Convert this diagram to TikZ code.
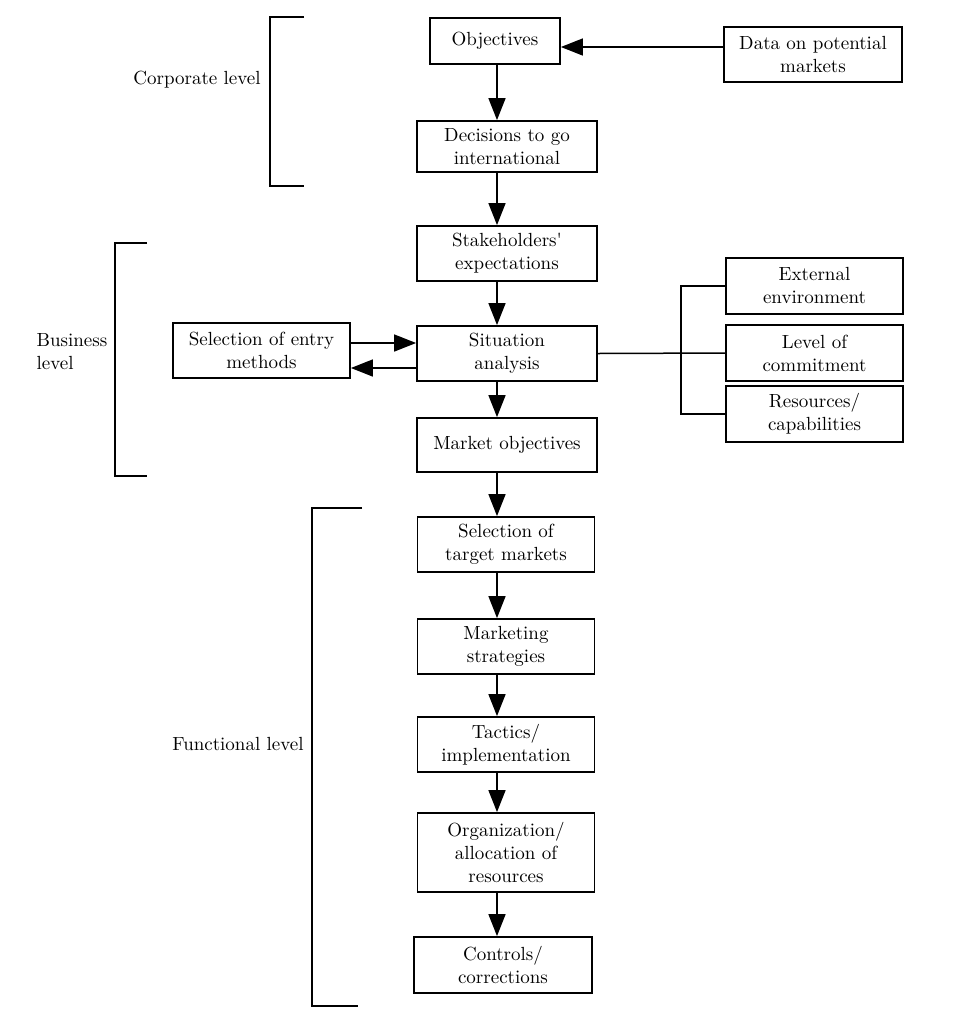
\documentclass[tikz,border=0pt]{standalone}
\usepackage{tikz}
\usetikzlibrary{arrows.meta}

\begin{document}
\begin{tikzpicture}[x=0.5pt, y=-0.5pt,
    box/.style={draw, line width=0.9pt, align=center, inner sep=2pt, font=\fontsize{9.5}{11.5}\selectfont},
    lvl/.style={font=\fontsize{9.5}{11.5}\selectfont},
    arr/.style={-{Triangle[length=11pt, width=8.5pt]}, line width=0.75pt},
    link/.style={line width=0.75pt},
    bracket/.style={line width=0.75pt}]
    \useasboundingbox (0,0) rectangle (964,1018);

    % corporate level
    \node[box, minimum width=65pt, minimum height=23pt] (obj) at (495,41) {Objectives};
    \node[box, minimum width=89pt, minimum height=27.5pt] (data) at (813,54.5) {Data on potential\\markets};
    \node[box, minimum width=90pt, minimum height=25.5pt] (dec) at (507,146.5) {Decisions to go\\international};

    % business level
    \node[box, minimum width=90pt, minimum height=27.5pt] (stk) at (507,253.5) {Stakeholders\textquotesingle\\expectations};
    \node[box, minimum width=90pt, minimum height=27.5pt] (sit) at (507,353.5) {Situation\\analysis};
    \node[box, minimum width=88.5pt, minimum height=27.5pt] (entry) at (261.5,350.5) {Selection of entry\\methods};
    \node[box, minimum width=90pt, minimum height=27pt] (mobj) at (507,445) {Market objectives};
    \node[box, minimum width=88.5pt, minimum height=28pt] (ext) at (814.5,286) {External\\environment};
    \node[box, minimum width=88.5pt, minimum height=28pt] (com) at (814.5,353) {Level of\\commitment};
    \node[box, minimum width=88.5pt, minimum height=28pt] (res) at (814.5,414) {Resources/\\capabilities};

    % functional level
    \node[box, minimum width=88.5pt, minimum height=27.5pt] (tgt) at (506,544.5) {Selection of\\target markets};
    \node[box, minimum width=88.5pt, minimum height=27.5pt] (mks) at (506,646.5) {Marketing\\strategies};
    \node[box, minimum width=88.5pt, minimum height=27.5pt] (tac) at (506,744.5) {Tactics/\\implementation};
    \node[box, minimum width=88.5pt, minimum height=39.5pt] (org) at (506,852.5) {Organization/\\allocation of\\resources};
    \node[box, minimum width=89pt, minimum height=28pt] (ctl) at (503,965) {Controls/\\corrections};

    % level labels
    \node[lvl] (corp) at (197,80) {Corporate level};
    \node[lvl, align=left] (bus) at (72,352) {Business\\level};
    \node[lvl] (func) at (238,744) {Functional level};

    \draw[bracket] (304,17) -- (270,17) -- (270,186) -- (304,186);
    \draw[bracket] (147,243) -- (115,243) -- (115,476) -- (147,476);
    \draw[bracket] (362,508) -- (312,508) -- (312,1006) -- (358,1006);

    % main flow
    \coordinate (col) at (497,0);
    \draw[arr] (obj.south -| col) -- (dec.north -| col);
    \draw[arr] (dec.south -| col) -- (stk.north -| col);
    \draw[arr] (stk.south -| col) -- (sit.north -| col);
    \draw[arr] (sit.south -| col) -- (mobj.north -| col);
    \draw[arr] (mobj.south -| col) -- (tgt.north -| col);
    \draw[arr] (tgt.south -| col) -- (mks.north -| col);
    \draw[arr] (mks.south -| col) -- (tac.north -| col);
    \draw[arr] (tac.south -| col) -- (org.north -| col);
    \draw[arr] (org.south -| col) -- (ctl.north -| col);

    \draw[arr] ([yshift=3.75pt]data.west) -- ([yshift=3.75pt]data.west -| obj.east);
    \draw[arr] ([yshift=3.75pt]entry.east) -- ([yshift=3.75pt]entry.east -| sit.west);
    \draw[arr] ([yshift=-8.75pt]entry.east -| sit.west) -- ([yshift=-8.75pt]entry.east);

    % situation factors
    \coordinate (jn) at (681,353);
    \draw[link] (sit.east) -- (com.west);
    \draw[link] (ext.west) -| (jn) |- (res.west);
\end{tikzpicture}
\end{document}
